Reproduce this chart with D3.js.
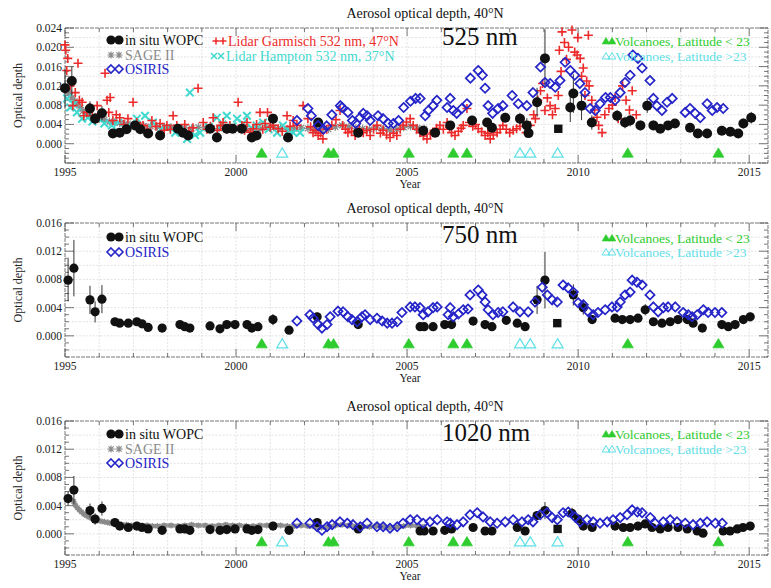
<!DOCTYPE html>
<html><head><meta charset="utf-8">
<script src="https://cdn.jsdelivr.net/npm/d3@7"></script>
<style>
body{margin:0;background:#fff}
svg{display:block}
text{font-family:"Liberation Serif","DejaVu Serif",serif}
</style>
</head><body>
<svg id="c" width="771" height="588"></svg>
<script>
// ---------------- DATA ----------------
const xTickYears = [1995, 2000, 2005, 2010, 2015];
const yTicksTop = [0.000, 0.004, 0.008, 0.012, 0.016, 0.020, 0.024];
const yTicksLower = [0.000, 0.004, 0.008, 0.012, 0.016];
const wavelengths = ["525 nm", "750 nm", "1020 nm"];
const panelTitle = "Aerosol optical depth, 40°N";

// Volcanic eruptions (years)
const volcLow = [2000.75, 2002.7, 2002.85, 2005.05, 2006.35, 2006.75, 2011.45, 2014.1];
const volcHigh = [2001.35, 2008.3, 2008.6, 2009.4];
const volcMarkerLevel = [-0.0019, -0.0011, -0.0011];

// in situ WOPC [year, value, error]
const wopc525 = [[1995.0,0.0115,0.004],[1995.2,0.013,0.003],[1995.73,0.0073,0.0015],[1995.88,0.0052,0.0012],[1996.08,0.0063,0.0015],[1996.4,0.0021,0.0006],[1996.6,0.0023,0.0006],[1996.8,0.003,0.0006],[1997.05,0.0038,0.0006],[1997.2,0.003,0.0006],[1997.43,0.0021,0.0005],[1997.78,0.0017,0.0005],[1998.3,0.0031,0.0006],[1998.45,0.0023,0.0005],[1998.6,0.0017,0.0005],[1999.24,0.0031,0.0006],[1999.44,0.0013,0.0005],[1999.73,0.0031,0.0006],[1999.9,0.0031,0.0006],[2000.17,0.0031,0.0006],[2000.46,0.0013,0.0005],[2000.6,0.0017,0.0005],[2001.08,0.0052,0.001],[2001.52,0.0013,0.0005],[2002.4,0.0044,0.0008],[2003.57,0.0023,0.0006],[2005.47,0.0027,0.0006],[2005.82,0.0023,0.0006],[2006.26,0.0038,0.0008],[2006.9,0.0048,0.0008],[2007.34,0.0044,0.0008],[2007.48,0.0033,0.0008],[2007.87,0.0054,0.001],[2008.3,0.0052,0.0012],[2008.5,0.0038,0.0015],[2008.55,0.0022,0.0008],[2008.8,0.0086,0.003],[2009.03,0.0177,0.006],[2009.77,0.0075,0.003],[2009.86,0.0104,0.004],[2010.1,0.0079,0.003],[2010.4,0.0044,0.0015],[2011.14,0.0058,0.0012],[2011.37,0.0044,0.0012],[2011.52,0.0048,0.0012],[2011.82,0.0038,0.001],[2012.02,0.0079,0.0015],[2012.2,0.0038,0.001],[2012.4,0.0031,0.0008],[2012.63,0.0038,0.0008],[2012.83,0.0042,0.0008],[2013.27,0.0033,0.0008],[2013.5,0.0021,0.0006],[2013.77,0.0021,0.0006],[2014.2,0.0027,0.0006],[2014.45,0.0025,0.0006],[2014.68,0.0021,0.0006],[2014.83,0.0042,0.001],[2015.06,0.0054,0.0012]];
const wopc750 = [[1995.09,0.0079,0.003],[1995.26,0.0096,0.004],[1995.73,0.0051,0.002],[1995.88,0.0034,0.0015],[1996.08,0.0052,0.002],[1996.46,0.002,0.0004],[1996.6,0.0018,0.0004],[1996.85,0.0018,0.0004],[1997.1,0.002,0.0004],[1997.25,0.0017,0.0004],[1997.43,0.0012,0.0003],[1997.84,0.0011,0.0003],[1998.36,0.0016,0.0004],[1998.5,0.0013,0.0003],[1998.65,0.0011,0.0003],[1999.24,0.0014,0.0003],[1999.53,0.001,0.0003],[1999.73,0.0016,0.0004],[1999.97,0.0016,0.0004],[2000.32,0.0016,0.0004],[2000.46,0.0011,0.0003],[2000.64,0.0013,0.0003],[2001.08,0.0023,0.0008],[2001.55,0.0008,0.0003],[2002.37,0.0027,0.0006],[2003.57,0.0016,0.0004],[2005.38,0.0013,0.0003],[2005.5,0.0013,0.0003],[2005.76,0.0013,0.0003],[2006.1,0.0016,0.0004],[2006.3,0.0016,0.0004],[2006.93,0.0021,0.0005],[2007.28,0.0016,0.0004],[2007.48,0.0013,0.0003],[2007.9,0.0022,0.0006],[2008.22,0.0018,0.0005],[2008.45,0.0013,0.0004],[2008.8,0.0051,0.002],[2009.03,0.0079,0.004],[2009.86,0.0058,0.0015],[2010.15,0.004,0.001],[2010.41,0.0023,0.0006],[2011.08,0.0025,0.0005],[2011.29,0.0023,0.0005],[2011.52,0.0023,0.0005],[2011.75,0.0025,0.0005],[2011.96,0.0037,0.0008],[2012.2,0.002,0.0005],[2012.45,0.0018,0.0004],[2012.69,0.002,0.0004],[2012.92,0.0023,0.0005],[2013.19,0.0023,0.0005],[2013.36,0.0018,0.0004],[2013.63,0.0011,0.0003],[2014.2,0.0016,0.0004],[2014.39,0.0013,0.0003],[2014.59,0.0016,0.0004],[2014.83,0.0023,0.0005],[2015.03,0.0027,0.0006]];
const wopc1020 = [[1995.09,0.005,0.001],[1995.26,0.0062,0.002],[1995.73,0.0033,0.001],[1995.88,0.0021,0.0008],[1996.08,0.0036,0.001],[1996.46,0.0016,0.0003],[1996.6,0.0011,0.0002],[1996.85,0.0009,0.0002],[1997.1,0.0011,0.0002],[1997.25,0.0009,0.0002],[1997.43,0.0007,0.0002],[1997.84,0.0005,0.0002],[1998.36,0.0007,0.0002],[1998.5,0.0007,0.0002],[1998.65,0.0005,0.0002],[1999.24,0.0006,0.0002],[1999.53,0.0005,0.0002],[1999.73,0.0006,0.0002],[1999.97,0.0007,0.0002],[2000.32,0.0007,0.0002],[2000.46,0.0005,0.0002],[2000.64,0.0006,0.0002],[2001.08,0.0011,0.0003],[2001.55,0.0005,0.0002],[2002.37,0.0016,0.0004],[2003.57,0.0007,0.0002],[2005.38,0.0004,0.0002],[2005.5,0.0004,0.0002],[2005.76,0.0004,0.0002],[2006.1,0.0005,0.0002],[2006.3,0.0007,0.0002],[2006.93,0.0009,0.0002],[2007.28,0.0004,0.0002],[2007.48,0.0004,0.0002],[2008.22,0.0009,0.0002],[2008.45,0.0004,0.0002],[2008.8,0.0026,0.0006],[2009.03,0.0033,0.0012],[2009.82,0.0029,0.0008],[2010.0,0.0021,0.0006],[2010.15,0.0011,0.0003],[2010.41,0.0009,0.0002],[2011.08,0.0011,0.0003],[2011.32,0.0009,0.0002],[2011.52,0.0009,0.0002],[2011.75,0.0011,0.0002],[2011.96,0.0014,0.0003],[2012.16,0.0009,0.0002],[2012.4,0.0007,0.0002],[2012.63,0.0009,0.0002],[2012.92,0.0009,0.0002],[2013.19,0.0007,0.0002],[2013.48,0.0004,0.0002],[2013.65,0.0001,0.0002],[2014.24,0.0004,0.0002],[2014.44,0.0004,0.0002],[2014.65,0.0007,0.0002],[2014.82,0.0009,0.0002],[2015.03,0.0011,0.0003]];
const wopcSquare525 = [[2009.42,0.0031]];
const wopcSquare750 = [[2009.39,0.0018]];
const wopcSquare1020 = [[2009.4,0.0007]];

// SAGE II [year, value]
const sage525 = [[1995.0,0.0118],[1995.05,0.011],[1995.12,0.0105],[1995.2,0.0095],[1995.28,0.0088],[1995.36,0.0082],[1995.45,0.0075],[1995.53,0.0068],[1995.62,0.0063],[1995.7,0.006],[1995.8,0.0056],[1995.9,0.0054],[1996.0,0.0052],[1996.15,0.005],[1996.3,0.0046],[1996.45,0.0044],[1996.6,0.0043],[1996.75,0.0041],[1996.9,0.004],[1997.1,0.0038],[1997.3,0.0037],[1997.5,0.0036],[1997.7,0.0035],[1997.9,0.0035],[1998.1,0.0034],[1998.3,0.0033],[1998.5,0.0033],[1998.7,0.0032],[1998.9,0.0034],[1999.1,0.0033],[1999.3,0.0031],[1999.5,0.0032],[1999.7,0.0033],[1999.9,0.0032],[2000.1,0.0031],[2000.3,0.0032],[2000.5,0.003],[2000.7,0.0031],[2000.9,0.0033],[2001.1,0.0034],[2001.3,0.0032],[2001.5,0.003],[2001.7,0.0031],[2001.9,0.0033],[2002.1,0.0032],[2002.3,0.0029],[2002.5,0.0028],[2002.7,0.003],[2002.9,0.0035],[2003.1,0.0038],[2003.3,0.0035],[2003.5,0.0032],[2003.7,0.0031],[2003.9,0.003],[2004.1,0.0033],[2004.3,0.0031],[2004.5,0.0029],[2004.7,0.003],[2004.9,0.0034],[2005.1,0.0036],[2005.3,0.0033],[2005.5,0.0031]];
const sage1020 = [[1995.25,0.0046],[1995.3,0.0041],[1995.36,0.0037],[1995.42,0.0034],[1995.48,0.0031],[1995.55,0.0028],[1995.62,0.0026],[1995.7,0.0024],[1995.78,0.0022],[1995.86,0.0021],[1995.95,0.0019],[1996.05,0.0018],[1996.15,0.0017],[1996.25,0.0016],[1996.35,0.0015],[1996.5,0.0014],[1996.65,0.0013],[1996.8,0.0013],[1996.95,0.0012],[1997.1,0.0013],[1997.25,0.0012],[1997.4,0.0012],[1997.55,0.0011],[1997.7,0.0011],[1997.9,0.0012],[1998.1,0.0012],[1998.3,0.0011],[1998.5,0.0012],[1998.7,0.0013],[1998.9,0.0012],[1999.1,0.0012],[1999.3,0.0011],[1999.5,0.0012],[1999.7,0.0013],[1999.9,0.0012],[2000.1,0.0012],[2000.3,0.0011],[2000.5,0.0011],[2000.7,0.0012],[2000.9,0.0012],[2001.1,0.0013],[2001.3,0.0012],[2001.5,0.0011],[2001.7,0.0011],[2001.9,0.0012],[2002.1,0.0011],[2002.3,0.001],[2002.5,0.0009],[2002.7,0.001],[2002.9,0.0012],[2003.1,0.0013],[2003.3,0.0012],[2003.5,0.0011],[2003.7,0.001],[2003.9,0.001],[2004.1,0.0011],[2004.3,0.001],[2004.5,0.0009],[2004.7,0.001],[2004.9,0.0011],[2005.1,0.0012],[2005.3,0.0011],[2005.5,0.001]];

// OSIRIS [year, value]
const osiris525 = [[2001.78,0.0048],[2002.1,0.0073],[2002.2,0.0058],[2002.4,0.0038],[2002.55,0.003],[2002.65,0.0037],[2002.8,0.006],[2003.05,0.0079],[2003.1,0.0075],[2003.27,0.0065],[2003.4,0.0048],[2003.5,0.0042],[2003.62,0.0054],[2003.72,0.0063],[2003.83,0.0058],[2003.92,0.0048],[2004.15,0.0058],[2004.3,0.0052],[2004.45,0.0042],[2004.6,0.0042],[2004.75,0.0048],[2004.9,0.0075],[2005.1,0.0088],[2005.25,0.0094],[2005.38,0.0094],[2005.53,0.0058],[2005.62,0.0069],[2005.76,0.0079],[2005.87,0.009],[2006.17,0.0075],[2006.26,0.0094],[2006.35,0.0069],[2006.45,0.0063],[2006.6,0.0073],[2006.75,0.0083],[2006.85,0.0136],[2007.08,0.0152],[2007.2,0.0142],[2007.28,0.0115],[2007.37,0.0079],[2007.5,0.0063],[2007.66,0.0073],[2007.8,0.0079],[2008.07,0.01],[2008.25,0.0083],[2008.5,0.0079],[2008.68,0.0106],[2008.9,0.0159],[2009.03,0.0127],[2009.18,0.0125],[2009.33,0.0117],[2009.47,0.0131],[2009.62,0.0169],[2009.77,0.0152],[2009.9,0.0142],[2010.05,0.0125],[2010.2,0.0106],[2010.35,0.0073],[2010.5,0.0069],[2010.64,0.0083],[2010.8,0.0096],[2010.94,0.0096],[2011.08,0.009],[2011.23,0.0106],[2011.37,0.0127],[2011.52,0.0142],[2011.6,0.0184],[2011.75,0.0177],[2011.87,0.0157],[2012.1,0.0131],[2012.2,0.0094],[2012.3,0.0079],[2012.45,0.0069],[2012.6,0.0086],[2012.75,0.0094],[2013.13,0.0065],[2013.27,0.0073],[2013.42,0.0063],[2013.57,0.0054],[2013.77,0.0083],[2013.92,0.0069],[2014.06,0.0075],[2014.24,0.0073]];
const osiris750 = [[2001.78,0.0021],[2002.16,0.003],[2002.25,0.0025],[2002.4,0.0016],[2002.51,0.0011],[2002.66,0.0016],[2002.75,0.0027],[2002.98,0.0035],[2003.13,0.0034],[2003.27,0.0027],[2003.39,0.0023],[2003.54,0.002],[2003.68,0.0027],[2003.77,0.003],[2003.92,0.0023],[2004.12,0.0025],[2004.27,0.0021],[2004.42,0.0018],[2004.56,0.0018],[2004.71,0.002],[2004.85,0.0033],[2005.09,0.0041],[2005.23,0.0041],[2005.38,0.004],[2005.47,0.003],[2005.61,0.0034],[2005.76,0.004],[2005.88,0.0041],[2006.2,0.003],[2006.26,0.004],[2006.35,0.0027],[2006.5,0.0031],[2006.64,0.0037],[2006.78,0.0038],[2006.84,0.0058],[2007.08,0.0065],[2007.19,0.0058],[2007.28,0.0048],[2007.37,0.0037],[2007.51,0.003],[2007.66,0.0033],[2007.8,0.0034],[2008.1,0.0041],[2008.3,0.0034],[2008.54,0.0034],[2008.74,0.0048],[2008.95,0.0069],[2009.1,0.0058],[2009.24,0.0051],[2009.39,0.0048],[2009.56,0.0072],[2009.71,0.0068],[2009.86,0.0062],[2010.0,0.0047],[2010.15,0.0044],[2010.3,0.0034],[2010.44,0.003],[2010.58,0.0033],[2010.79,0.0037],[2010.99,0.0041],[2011.14,0.0041],[2011.23,0.0048],[2011.37,0.0058],[2011.52,0.0062],[2011.58,0.0079],[2011.72,0.0076],[2011.87,0.0072],[2012.1,0.0058],[2012.2,0.0041],[2012.34,0.0034],[2012.49,0.004],[2012.63,0.0041],[2012.84,0.0041],[2013.07,0.0033],[2013.22,0.003],[2013.33,0.0027],[2013.48,0.003],[2013.66,0.0037],[2013.8,0.0033],[2014.0,0.0033],[2014.2,0.0033]];
const osiris1020 = [[2001.78,0.0015],[2002.16,0.0015],[2002.37,0.001],[2002.51,0.0005],[2002.66,0.001],[2002.81,0.0013],[2003.04,0.0017],[2003.25,0.0015],[2003.42,0.0013],[2003.63,0.001],[2003.83,0.0015],[2004.12,0.001],[2004.3,0.001],[2004.5,0.0008],[2004.71,0.001],[2004.88,0.0015],[2005.09,0.002],[2005.29,0.002],[2005.47,0.0015],[2005.67,0.0017],[2005.88,0.002],[2006.17,0.0017],[2006.26,0.0015],[2006.46,0.0013],[2006.64,0.0017],[2006.84,0.0027],[2007.05,0.003],[2007.22,0.0024],[2007.43,0.0017],[2007.63,0.0015],[2007.87,0.0017],[2008.1,0.002],[2008.36,0.0017],[2008.54,0.002],[2008.68,0.0017],[2008.89,0.0027],[2009.09,0.003],[2009.24,0.0023],[2009.39,0.002],[2009.56,0.003],[2009.71,0.0031],[2009.91,0.0024],[2010.06,0.0017],[2010.26,0.002],[2010.44,0.0017],[2010.64,0.0015],[2010.85,0.0017],[2011.02,0.002],[2011.23,0.0023],[2011.43,0.0027],[2011.58,0.0034],[2011.73,0.0031],[2011.87,0.003],[2012.11,0.0023],[2012.25,0.0015],[2012.49,0.0017],[2012.69,0.002],[2012.89,0.0017],[2013.13,0.0015],[2013.36,0.0013],[2013.57,0.0015],[2013.77,0.0017],[2014.01,0.0015],[2014.21,0.0015]];

// Lidar Garmisch 532 nm, 47N [year, value]
const lidarGarmisch = [[1995.0,0.0205],[1995.02,0.0194],[1995.08,0.0177],[1995.05,0.0152],[1995.15,0.012],[1995.23,0.0079],[1995.3,0.0106],[1995.38,0.0167],[1995.42,0.009],[1995.5,0.0086],[1995.55,0.0058],[1995.64,0.0065],[1995.72,0.0075],[1995.8,0.0058],[1995.94,0.0079],[1996.05,0.0062],[1996.17,0.0146],[1996.23,0.009],[1996.32,0.0096],[1996.28,0.0065],[1996.4,0.0048],[1996.5,0.006],[1996.6,0.0054],[1996.72,0.004],[1996.84,0.0052],[1996.99,0.0086],[1997.1,0.0044],[1997.2,0.0035],[1997.28,0.0038],[1997.4,0.003],[1997.54,0.0048],[1997.66,0.0036],[1997.78,0.0042],[1997.9,0.0028],[1997.98,0.0038],[1998.08,0.003],[1998.16,0.0058],[1998.27,0.0038],[1998.36,0.0031],[1998.5,0.004],[1998.62,0.0026],[1998.74,0.0033],[1998.89,0.0115],[1999.04,0.0044],[1999.15,0.003],[1999.25,0.0036],[1999.33,0.0054],[1999.45,0.0028],[1999.55,0.0038],[1999.62,0.0044],[1999.72,0.003],[1999.82,0.0038],[1999.95,0.0032],[2000.06,0.0086],[2000.17,0.0038],[2000.25,0.0028],[2000.32,0.0044],[2000.42,0.0024],[2000.5,0.0031],[2000.6,0.004],[2000.7,0.0065],[2000.78,0.003],[2000.85,0.0042],[2000.92,0.0065],[2001.0,0.0034],[2001.08,0.0038],[2001.23,0.0031],[2001.35,0.0026],[2001.49,0.0058],[2001.58,0.0036],[2001.67,0.0048],[2001.78,0.0038],[2001.96,0.0079],[2002.1,0.0052],[2002.18,0.0035],[2002.25,0.0023],[2002.33,0.0028],[2002.4,0.0017],[2002.47,0.0022],[2002.54,0.001],[2002.65,0.003],[2002.8,0.0038],[2002.92,0.005],[2003.04,0.0069],[2003.12,0.0038],[2003.2,0.003],[2003.27,0.0023],[2003.38,0.0026],[2003.48,0.0017],[2003.6,0.003],[2003.72,0.0023],[2003.82,0.0028],[2003.92,0.0017],[2004.02,0.003],[2004.12,0.0038],[2004.22,0.0022],[2004.3,0.0028],[2004.4,0.0018],[2004.5,0.0013],[2004.6,0.0022],[2004.7,0.0017],[2004.8,0.003],[2004.88,0.0038],[2004.98,0.0045],[2005.09,0.0052],[2005.18,0.0038],[2005.28,0.003],[2005.38,0.0023],[2005.48,0.0016],[2005.58,0.001],[2005.68,0.002],[2005.76,0.0023],[2005.86,0.0032],[2005.96,0.0038],[2006.06,0.003],[2006.17,0.0044],[2006.24,0.0034],[2006.3,0.0023],[2006.4,0.0017],[2006.5,0.0026],[2006.58,0.0032],[2006.64,0.0038],[2006.75,0.0073],[2006.82,0.0044],[2006.92,0.0036],[2007.0,0.004],[2007.08,0.0031],[2007.18,0.0025],[2007.28,0.0017],[2007.36,0.0022],[2007.43,0.001],[2007.52,0.0018],[2007.63,0.0023],[2007.72,0.003],[2007.8,0.0038],[2007.9,0.003],[2008.0,0.0023],[2008.1,0.0028],[2008.2,0.0031],[2008.3,0.0036],[2008.4,0.0044],[2008.48,0.0023],[2008.6,0.0038],[2008.7,0.006],[2008.75,0.0052],[2008.82,0.009],[2008.9,0.011],[2008.96,0.0125],[2009.03,0.0069],[2009.1,0.0095],[2009.18,0.0079],[2009.25,0.006],[2009.33,0.0073],[2009.42,0.01],[2009.45,0.0194],[2009.5,0.015],[2009.53,0.0232],[2009.6,0.021],[2009.66,0.0175],[2009.72,0.02],[2009.82,0.0236],[2009.9,0.019],[2009.97,0.0184],[2009.99,0.022],[2010.06,0.0177],[2010.1,0.014],[2010.15,0.0157],[2010.2,0.01],[2010.25,0.013],[2010.3,0.0225],[2010.32,0.012],[2010.4,0.009],[2010.48,0.007],[2010.55,0.0055],[2010.6,0.0038],[2010.7,0.0023],[2010.78,0.006],[2010.9,0.0073],[2011.0,0.008],[2011.08,0.0096],[2011.17,0.0052],[2011.3,0.012],[2011.4,0.009],[2011.5,0.007],[2011.58,0.011],[2011.7,0.006]];

// Lidar Hampton 532 nm, 37N [year, value]
const lidarHampton = [[1995.06,0.0094],[1995.15,0.0075],[1995.25,0.0082],[1995.35,0.0065],[1995.5,0.0052],[1995.67,0.0054],[1995.8,0.0046],[1995.94,0.0054],[1996.15,0.0042],[1996.37,0.0038],[1996.55,0.0044],[1996.8,0.0034],[1997.1,0.0052],[1997.34,0.0058],[1997.57,0.0044],[1997.8,0.003],[1997.98,0.0033],[1998.22,0.0023],[1998.4,0.0028],[1998.57,0.001],[1998.65,0.0106],[1998.8,0.0018],[1998.95,0.0023],[1999.2,0.0035],[1999.44,0.0054],[1999.6,0.004],[1999.73,0.0058],[1999.9,0.0036],[2000.03,0.0052],[2000.2,0.0042],[2000.32,0.0058],[2000.45,0.0033],[2000.6,0.0038],[2000.79,0.0044],[2000.95,0.003],[2001.2,0.0023],[2001.37,0.0038],[2001.55,0.0028],[2001.67,0.0023],[2001.87,0.0023]];

// ---------------- DRAWING ----------------
const svg = d3.select("#c");
const RED = "#ec2a2a", CYAN = "#3fd9cf", BLUE = "#2424c8", GREEN = "#2ecc2e", VCYAN = "#5fe0e6", GREY = "#8a8a8a";

const x = d3.scaleLinear().domain([1995, 2015.55]).range([65, 768]);

const shape = {
  plus: s => `M${-s},0H${s}M0,${-s}V${s}`,
  cross: s => `M${-s},${-s}L${s},${s}M${-s},${s}L${s},${-s}`,
  star: s => { const t = s*0.72; return `M${-s},0H${s}M0,${-s}V${s}M${-t},${-t}L${t},${t}M${-t},${t}L${t},${-t}`; },
  diamond: s => `M0,${-s}L${s},0L0,${s}L${-s},0Z`,
  tri: s => `M0,${-s}L${s*1.1},${s*0.85}L${-s*1.1},${s*0.85}Z`,
  square: s => `M${-s},${-s}h${2*s}v${2*s}h${-2*s}Z`
};

const panels = [
  {top:28, bottom:163, dom:[-0.004,0.024], ticks:yTicksTop, wl:wavelengths[0],
   wopc:wopc525, sq:wopcSquare525, sage:sage525, osiris:osiris525, garm:lidarGarmisch, hamp:lidarHampton,
   r:5, legendY:[40,55,69], volcLegY:[41,56], wlY:45, vl:volcMarkerLevel[0]},
  {top:223, bottom:357, dom:[-0.003,0.016], ticks:yTicksLower, wl:wavelengths[1],
   wopc:wopc750, sq:wopcSquare750, sage:null, osiris:osiris750, garm:null, hamp:null,
   r:4.6, legendY:[237,252], volcLegY:[238,252], wlY:243, vl:volcMarkerLevel[1]},
  {top:421, bottom:555, dom:[-0.003,0.016], ticks:yTicksLower, wl:wavelengths[2],
   wopc:wopc1020, sq:wopcSquare1020, sage:sage1020, osiris:osiris1020, garm:null, hamp:null,
   r:4.6, legendY:[434,449,463], volcLegY:[434,449], wlY:441, vl:volcMarkerLevel[2]}
];

panels.forEach((p, pi) => {
  const y = d3.scaleLinear().domain(p.dom).range([p.bottom, p.top]);
  const g = svg.append("g");
  const L = x.range()[0], R = x.range()[1];

  // grid
  const yrs = d3.range(1996, 2016);
  g.selectAll(null).data(yrs).join("line")
    .attr("x1", d => x(d)).attr("x2", d => x(d)).attr("y1", p.top).attr("y2", p.bottom)
    .attr("stroke", "#dcdcdc").attr("stroke-width", 0.8).attr("stroke-dasharray", "2,1.5");
  const hg = d3.range(Math.ceil(p.dom[0]/0.002)*0.002 + 1e-9, p.dom[1]-1e-9, 0.002);
  g.selectAll(null).data(hg).join("line")
    .attr("x1", L).attr("x2", R).attr("y1", d => y(d)).attr("y2", d => y(d))
    .attr("stroke", "#dcdcdc").attr("stroke-width", 0.8).attr("stroke-dasharray", "2,1.5");

  // frame
  g.append("rect").attr("x", L).attr("y", p.top).attr("width", R-L).attr("height", p.bottom-p.top)
    .attr("fill", "none").attr("stroke", "#777").attr("stroke-width", 1).attr("stroke-dasharray", "4,1");

  // y ticks
  const minor = d3.range(Math.ceil(p.dom[0]/0.001), Math.floor(p.dom[1]/0.001)+1).map(k => k*0.001);
  minor.forEach(v => {
    const major = Math.abs(Math.round(v/0.004)*0.004 - v) < 1e-9;
    const len = major ? 9 : 4;
    g.append("line").attr("x1", L).attr("x2", L+len).attr("y1", y(v)).attr("y2", y(v)).attr("stroke", "#555").attr("stroke-width", 0.8);
    g.append("line").attr("x1", R).attr("x2", R-len).attr("y1", y(v)).attr("y2", y(v)).attr("stroke", "#555").attr("stroke-width", 0.8);
  });
  g.selectAll(null).data(p.ticks).join("text")
    .attr("x", 62).attr("y", d => y(d)).attr("dy", "0.35em").attr("text-anchor", "end")
    .attr("font-size", 11.5).attr("fill", "#222").text(d3.format(".3f"));

  // x ticks
  d3.range(1995, 2016).forEach(yr => {
    const major = yr % 5 === 0;
    const len = major ? 8 : 4;
    g.append("line").attr("x1", x(yr)).attr("x2", x(yr)).attr("y1", p.bottom).attr("y2", p.bottom-len).attr("stroke", "#555").attr("stroke-width", 0.8);
    g.append("line").attr("x1", x(yr)).attr("x2", x(yr)).attr("y1", p.top).attr("y2", p.top+len).attr("stroke", "#555").attr("stroke-width", 0.8);
  });
  g.selectAll(null).data(xTickYears).join("text")
    .attr("x", d => x(d)).attr("y", p.bottom + 13).attr("text-anchor", "middle")
    .attr("font-size", 11.5).attr("fill", "#222").text(d => d);
  g.append("text").attr("x", 410).attr("y", p.bottom + 25).attr("text-anchor", "middle")
    .attr("font-size", 11.5).attr("fill", "#222").text("Year");

  // y label
  const cy = (p.top + p.bottom)/2;
  g.append("text").attr("transform", `translate(22,${cy}) rotate(-90)`).attr("text-anchor", "middle")
    .attr("font-size", 12).attr("fill", "#222").text("Optical depth");

  // title
  g.append("text").attr("x", 425).attr("y", p.top - 10).attr("text-anchor", "middle")
    .attr("font-size", 14).attr("fill", "#111").text(panelTitle);

  // ---- series ----
  if (p.sage) {
    if (pi === 2) {
      g.append("path").datum(p.sage)
        .attr("d", d3.line().x(d => x(d[0])).y(d => y(d[1])))
        .attr("fill", "none").attr("stroke", "#9a9a9a").attr("stroke-width", 4).attr("stroke-linecap", "round");
    }
    g.selectAll(null).data(p.sage).join("path")
      .attr("transform", d => `translate(${x(d[0])},${y(d[1])})`)
      .attr("d", shape.star(pi === 2 ? 3 : 4)).attr("fill", "none").attr("stroke", GREY).attr("stroke-width", 1.3);
  }
  if (p.hamp) {
    g.selectAll(null).data(p.hamp).join("path")
      .attr("transform", d => `translate(${x(d[0])},${y(d[1])})`)
      .attr("d", shape.cross(3.8)).attr("fill", "none").attr("stroke", CYAN).attr("stroke-width", 2);
  }
  if (p.garm) {
    g.selectAll(null).data(p.garm).join("path")
      .attr("transform", d => `translate(${x(d[0])},${y(d[1])})`)
      .attr("d", shape.plus(4.5)).attr("fill", "none").attr("stroke", RED).attr("stroke-width", 1.6);
  }
  // WOPC error bars + circles
  g.selectAll(null).data(p.wopc).join("line")
    .attr("x1", d => x(d[0])).attr("x2", d => x(d[0]))
    .attr("y1", d => y(d[1]-d[2])).attr("y2", d => y(d[1]+d[2]))
    .attr("stroke", "#333").attr("stroke-width", 1);
  g.selectAll(null).data(p.wopc).join("circle")
    .attr("cx", d => x(d[0])).attr("cy", d => y(d[1])).attr("r", p.r)
    .attr("fill", "#111");
  g.selectAll(null).data(p.sq).join("path")
    .attr("transform", d => `translate(${x(d[0])},${y(d[1])})`)
    .attr("d", shape.square(4.2)).attr("fill", "#111");
  // OSIRIS
  g.selectAll(null).data(p.osiris).join("path")
    .attr("transform", d => `translate(${x(d[0])},${y(d[1])})`)
    .attr("d", shape.diamond(4.6)).attr("fill", "none").attr("stroke", BLUE).attr("stroke-width", 1.7);

  // volcanoes
  g.selectAll(null).data(volcLow).join("path")
    .attr("transform", d => `translate(${x(d)},${y(p.vl)})`)
    .attr("d", shape.tri(5)).attr("fill", GREEN).attr("stroke", GREEN).attr("stroke-width", 0.8);
  g.selectAll(null).data(volcHigh).join("path")
    .attr("transform", d => `translate(${x(d)},${y(p.vl)})`)
    .attr("d", shape.tri(5)).attr("fill", "none").attr("stroke", VCYAN).attr("stroke-width", 1.2);

  // ---- legend ----
  const lg = svg.append("g");
  const items = [];
  items.push({label:"in situ WOPC", color:"#111", kind:"circle"});
  if (p.sage) items.push({label:"SAGE II", color:GREY, kind:"star"});
  items.push({label:"OSIRIS", color:BLUE, kind:"diamond"});
  items.forEach((it, i) => {
    const yy = p.legendY[i];
    [111, 119].forEach(xx => {
      if (it.kind === "circle") lg.append("circle").attr("cx", xx).attr("cy", yy).attr("r", 4.6).attr("fill", "#111");
      else lg.append("path").attr("transform", `translate(${xx},${yy})`)
        .attr("d", it.kind === "star" ? shape.star(3.6) : shape.diamond(4))
        .attr("fill", "none").attr("stroke", it.color).attr("stroke-width", it.kind === "star" ? 1.2 : 1.6);
    });
    lg.append("text").attr("x", 125).attr("y", yy + 4.5).attr("font-size", 14).attr("fill", it.color === "#111" ? "#111" : it.color).text(it.label);
  });
  if (p.garm) {
    [216, 223].forEach(xx => lg.append("path").attr("transform", `translate(${xx},41)`).attr("d", shape.plus(3.5))
      .attr("stroke", RED).attr("stroke-width", 1.5).attr("fill", "none"));
    lg.append("text").attr("x", 228).attr("y", 45.5).attr("font-size", 14).attr("fill", RED).text("Lidar Garmisch 532 nm, 47°N");
    [214, 221].forEach(xx => lg.append("path").attr("transform", `translate(${xx},56)`).attr("d", shape.cross(3))
      .attr("stroke", CYAN).attr("stroke-width", 1.5).attr("fill", "none"));
    lg.append("text").attr("x", 226).attr("y", 60.5).attr("font-size", 14).attr("fill", CYAN).text("Lidar Hampton 532 nm, 37°N");
  }
  // wavelength label
  lg.append("text").attr("x", 442).attr("y", p.wlY).attr("font-size", 25).attr("fill", "#111").text(p.wl);
  // volcano legend
  [606, 612].forEach(xx => lg.append("path").attr("transform", `translate(${xx},${p.volcLegY[0]})`).attr("d", shape.tri(3.5))
    .attr("fill", GREEN).attr("stroke", GREEN).attr("stroke-width", 0.6));
  lg.append("text").attr("x", 615).attr("y", p.volcLegY[0] + 4.5).attr("font-size", 13.5).attr("fill", GREEN).text("Volcanoes, Latitude < 23");
  [606, 612].forEach(xx => lg.append("path").attr("transform", `translate(${xx},${p.volcLegY[1]})`).attr("d", shape.tri(3.5))
    .attr("fill", "none").attr("stroke", VCYAN).attr("stroke-width", 1));
  lg.append("text").attr("x", 615).attr("y", p.volcLegY[1] + 4.5).attr("font-size", 13.5).attr("fill", VCYAN).text("Volcanoes, Latitude >23");
});
</script>
</body></html>
